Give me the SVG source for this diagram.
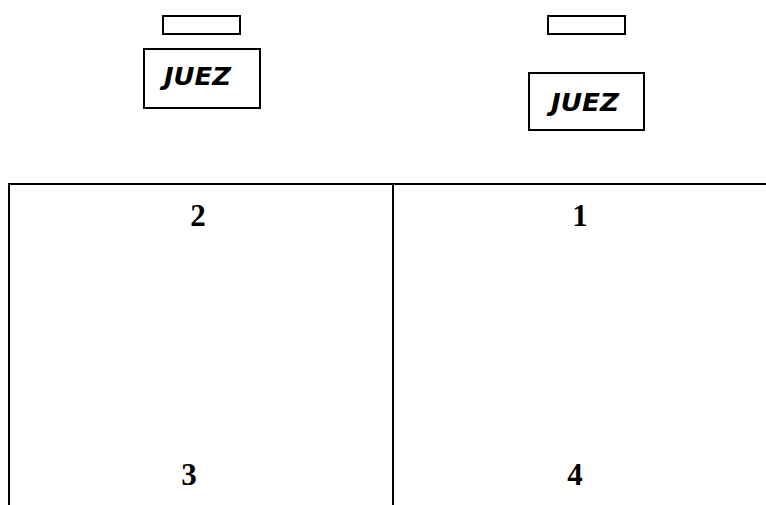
<svg xmlns="http://www.w3.org/2000/svg" width="766" height="505" viewBox="0 0 766 505">
<style>
.box{fill:#fff;stroke:#000;stroke-width:2}
.juez{font-family:"DejaVu Sans",Verdana,sans-serif;font-weight:bold;font-style:italic;font-size:25px;fill:#000}
.num{font-family:"Liberation Serif","Times New Roman",serif;font-weight:bold;font-size:31px;fill:#000;text-anchor:middle}
.ln{stroke:#000;stroke-width:2;fill:none}
</style>
<rect width="766" height="505" fill="#fff"/>
<g id="juez-left">
<rect class="box" x="163" y="16" width="77" height="18"/>
<rect class="box" x="144" y="49" width="116" height="59"/>
<text class="juez" x="164" y="85" textLength="67" lengthAdjust="spacingAndGlyphs">JUEZ</text>
</g>
<g id="juez-right">
<rect class="box" x="548" y="16" width="77" height="18"/>
<rect class="box" x="529" y="73" width="115" height="57"/>
<text class="juez" x="551" y="111" textLength="68" lengthAdjust="spacingAndGlyphs">JUEZ</text>
</g>
<g id="table">
<line class="ln" x1="8" y1="184" x2="766" y2="184"/>
<line class="ln" x1="9" y1="183" x2="9" y2="505"/>
<line class="ln" x1="393" y1="183" x2="393" y2="505"/>
</g>
<g id="labels">
<text class="num" x="198" y="226">2</text>
<text class="num" x="580" y="226">1</text>
<text class="num" x="189" y="485">3</text>
<text class="num" x="575" y="485">4</text>
</g>
</svg>
